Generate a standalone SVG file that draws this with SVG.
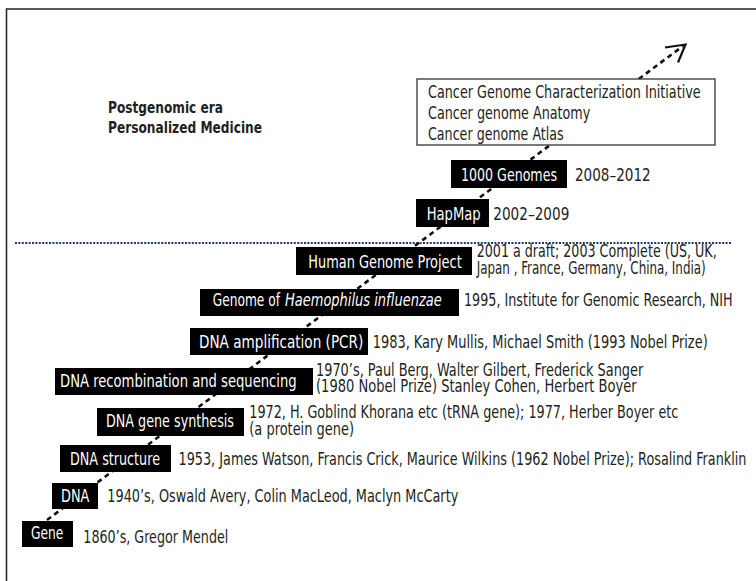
<svg xmlns="http://www.w3.org/2000/svg" width="756" height="581" viewBox="0 0 756 581">
<defs>
<style>
text{font-family:"Liberation Sans Narrow","DejaVu Sans Condensed","Liberation Sans",sans-serif;font-size:17px;fill:#231f20}
.w{fill:#fff;font-size:17.5px}
.b{fill:#000}
.h{font-weight:bold;font-size:16.5px}
.i{font-style:italic}
</style>
</defs>
<rect width="756" height="581" fill="#fff"/>
<path d="M6.5,581 V9 H756" fill="none" stroke="#222" stroke-width="1.5"/>
<line x1="15" y1="243" x2="732" y2="243" stroke="#1d3a6b" stroke-width="2" stroke-dasharray="2,1.4"/>
<g id="connectors">
<line x1="47" y1="520" x2="683" y2="46" stroke="#111" stroke-width="2.6" stroke-dasharray="5,4"/>
<polyline points="665,47.5 685.5,44.5 678,62.5" fill="none" stroke="#111" stroke-width="2.2"/>
</g>
<g id="era">
<text class="h"><tspan x="108" y="113" textLength="115" lengthAdjust="spacingAndGlyphs">Postgenomic era</tspan><tspan x="108" y="132.5" textLength="154" lengthAdjust="spacingAndGlyphs">Personalized Medicine</tspan></text>
</g>
<g id="cancer">
<rect x="417" y="79" width="298" height="66" fill="#fff" stroke="#333" stroke-width="1.3"/>
<text><tspan x="428" y="97.5" textLength="272.7" lengthAdjust="spacingAndGlyphs">Cancer Genome Characterization Initiative</tspan><tspan x="428" y="118.5" textLength="162.3" lengthAdjust="spacingAndGlyphs">Cancer genome Anatomy</tspan><tspan x="428" y="139.5" textLength="135.7" lengthAdjust="spacingAndGlyphs">Cancer genome Atlas</tspan></text>
</g>
<g id="n1000">
<rect class="b" x="451" y="160" width="116" height="28"/>
<text class="w" x="461" y="180.5" textLength="96" lengthAdjust="spacingAndGlyphs">1000 Genomes</text>
<text x="575" y="180.5" textLength="75.7" lengthAdjust="spacingAndGlyphs">2008–2012</text>
</g>
<g id="hapmap">
<rect class="b" x="416" y="199" width="73" height="28"/>
<text class="w" x="426.7" y="219.5" textLength="54" lengthAdjust="spacingAndGlyphs">HapMap</text>
<text x="493.3" y="219.5" textLength="76" lengthAdjust="spacingAndGlyphs">2002–2009</text>
</g>
<g id="hgp">
<rect class="b" x="296" y="247" width="176" height="28"/>
<text class="w" x="308.3" y="268" textLength="153.4" lengthAdjust="spacingAndGlyphs">Human Genome Project</text>
<text><tspan x="476.7" y="257" textLength="240" lengthAdjust="spacingAndGlyphs">2001 a draft; 2003 Complete (US, UK,</tspan><tspan x="476.7" y="273.5" textLength="229" lengthAdjust="spacingAndGlyphs">Japan , France, Germany, China, India)</tspan></text>
</g>
<g id="haemophilus">
<rect class="b" x="200" y="289" width="259" height="27"/>
<text class="w"><tspan x="212.7" y="305.5" textLength="67.3" lengthAdjust="spacingAndGlyphs">Genome of</tspan><tspan class="i" x="285" y="305.5" textLength="156.7" lengthAdjust="spacingAndGlyphs">Haemophilus influenzae</tspan></text>
<text x="464" y="305.5" textLength="268.7" lengthAdjust="spacingAndGlyphs">1995, Institute for Genomic Research, NIH</text>
</g>
<g id="pcr">
<rect class="b" x="190" y="328" width="178" height="27"/>
<text class="w" x="199" y="348" textLength="164.3" lengthAdjust="spacingAndGlyphs">DNA amplification (PCR)</text>
<text x="372.7" y="348" textLength="335" lengthAdjust="spacingAndGlyphs">1983, Kary Mullis, Michael Smith (1993 Nobel Prize)</text>
</g>
<g id="recombination">
<rect class="b" x="55" y="368" width="258" height="27"/>
<text class="w" x="60" y="387" textLength="236.7" lengthAdjust="spacingAndGlyphs">DNA recombination and sequencing</text>
<text><tspan x="316" y="375.5" textLength="327.3" lengthAdjust="spacingAndGlyphs">1970’s,  Paul Berg, Walter Gilbert, Frederick Sanger</tspan><tspan x="316" y="392" textLength="320.7" lengthAdjust="spacingAndGlyphs">(1980 Nobel Prize) Stanley Cohen, Herbert Boyer</tspan></text>
</g>
<g id="synthesis">
<rect class="b" x="97" y="408" width="147" height="28"/>
<text class="w" x="106" y="427" textLength="128" lengthAdjust="spacingAndGlyphs">DNA gene synthesis</text>
<text><tspan x="249.3" y="418" textLength="429" lengthAdjust="spacingAndGlyphs">1972, H. Goblind Khorana etc (tRNA gene); 1977, Herber Boyer etc</tspan><tspan x="249.3" y="435" textLength="104.7" lengthAdjust="spacingAndGlyphs">(a protein gene)</tspan></text>
</g>
<g id="structure">
<rect class="b" x="60" y="445" width="111" height="27"/>
<text class="w" x="70" y="465" textLength="90" lengthAdjust="spacingAndGlyphs">DNA structure</text>
<text x="178.5" y="465" textLength="568" lengthAdjust="spacingAndGlyphs">1953, James Watson, Francis Crick, Maurice Wilkins (1962 Nobel Prize); Rosalind Franklin</text>
</g>
<g id="dna">
<rect class="b" x="52" y="483" width="46" height="26"/>
<text class="w" x="61" y="502" textLength="28.3" lengthAdjust="spacingAndGlyphs">DNA</text>
<text x="107.3" y="502" textLength="351" lengthAdjust="spacingAndGlyphs">1940’s, Oswald Avery,  Colin MacLeod, Maclyn McCarty</text>
</g>
<g id="gene">
<rect class="b" x="22" y="521" width="51" height="26"/>
<text class="w" x="31" y="538.5" textLength="32.3" lengthAdjust="spacingAndGlyphs">Gene</text>
<text x="83.3" y="543" textLength="145" lengthAdjust="spacingAndGlyphs">1860’s, Gregor Mendel</text>
</g>
</svg>
